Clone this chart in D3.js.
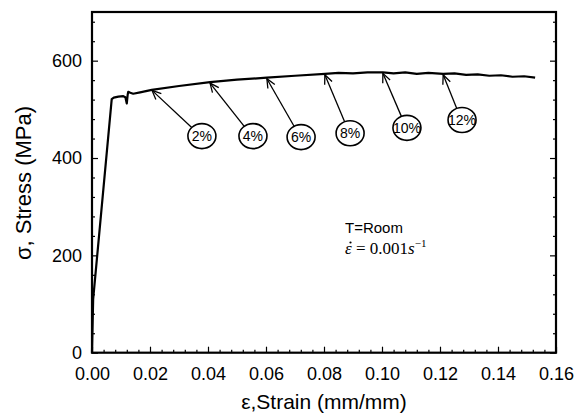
<!DOCTYPE html>
<html>
<head>
<meta charset="utf-8">
<script src="https://cdn.jsdelivr.net/npm/d3@7"></script>
<style>
  body { margin: 0; background: #fff; }
  svg { display: block; }
  .axis text { font-family: Arial, "Liberation Sans", sans-serif; font-size: 18px; fill: #000; }
  .axis line { stroke: #000; stroke-width: 1.2; }
  .axis path { display: none; }
</style>
</head>
<body>
<svg width="574" height="413"></svg>
<script>
// strain (mm/mm) and stress (MPa)
var strain = [0, 0.0004, 0.0068, 0.0075, 0.0091, 0.0108, 0.0115, 0.0120, 0.0123, 0.0125, 0.0132, 0.0142, 0.0166, 0.0206,
    0.030, 0.0407, 0.050, 0.0603, 0.070, 0.0803, 0.085, 0.090, 0.095, 0.1003, 0.104, 0.108, 0.112, 0.116,
    0.1211, 0.125, 0.129, 0.133, 0.137, 0.141, 0.145, 0.149, 0.1528];
var stress = [0, 110, 521, 524, 526, 527, 525, 512, 530, 536, 534, 532, 535, 540,
    548, 556, 561, 565, 569, 573, 575, 574, 576, 576, 574, 576, 573, 575,
    573, 574, 571, 572, 569, 570, 567, 568, 565];

// arrow labels: text, tip on the curve, circle centre
var labels = ["2%", "4%", "6%", "8%", "10%", "12%"];
var tipStrain = [0.0207, 0.0407, 0.0603, 0.0803, 0.1003, 0.1211];
var tipStress = [541, 556, 565, 573, 576, 573];
var boxStrain = [0.0379, 0.0555, 0.0721, 0.0890, 0.1086, 0.1276];
var boxStress = [445, 445, 443, 451, 462, 478];

var xMajor = [0, 0.02, 0.04, 0.06, 0.08, 0.10, 0.12, 0.14, 0.16];
var yMajor = [0, 200, 400, 600];

var svg = d3.select("svg"),
    margin = {top: 12, right: 18, bottom: 60, left: 92},
    width = 574 - margin.left - margin.right,
    height = 413 - margin.top - margin.bottom - 0.3;

var x = d3.scaleLinear().domain([0, 0.16]).range([margin.left, margin.left + width]),
    y = d3.scaleLinear().domain([0, 700]).range([margin.top + height, margin.top]);

var xMinor = d3.range(0, 0.1601, 0.004).filter(function(v) { return Math.abs(v / 0.02 - Math.round(v / 0.02)) > 1e-6; });
var yMinor = d3.range(0, 701, 40).filter(function(v) { return v % 200 !== 0; });

// bottom axis, ticks inward
svg.append("g").attr("class", "axis")
    .attr("transform", "translate(0," + y(0) + ")")
    .call(d3.axisBottom(x).tickValues(xMajor).tickFormat(d3.format(".2f")).tickSize(-6).tickPadding(15));
svg.append("g").attr("class", "axis")
    .attr("transform", "translate(0," + y(0) + ")")
    .call(d3.axisBottom(x).tickValues(xMinor).tickFormat("").tickSize(-3));

// left axis
svg.append("g").attr("class", "axis")
    .attr("transform", "translate(" + x(0) + ",0)")
    .call(d3.axisLeft(y).tickValues(yMajor).tickSize(-6).tickPadding(10));
svg.append("g").attr("class", "axis")
    .attr("transform", "translate(" + x(0) + ",0)")
    .call(d3.axisLeft(y).tickValues(yMinor).tickFormat("").tickSize(-3));

// right axis, no labels
svg.append("g").attr("class", "axis")
    .attr("transform", "translate(" + x(0.16) + ",0)")
    .call(d3.axisRight(y).tickValues(yMajor).tickFormat("").tickSize(-6));
svg.append("g").attr("class", "axis")
    .attr("transform", "translate(" + x(0.16) + ",0)")
    .call(d3.axisRight(y).tickValues(yMinor).tickFormat("").tickSize(-3));

// frame
svg.append("rect")
    .attr("x", x(0)).attr("y", y(700))
    .attr("width", x(0.16) - x(0)).attr("height", y(0) - y(700))
    .attr("fill", "none").attr("stroke", "#000").attr("stroke-width", 2.2);

// curve
var line = d3.line()
    .x(function(d, i) { return x(strain[i]); })
    .y(function(d, i) { return y(stress[i]); });

svg.append("path")
    .datum(stress)
    .attr("d", line)
    .attr("fill", "none")
    .attr("stroke", "#000")
    .attr("stroke-width", 2.2)
    .attr("stroke-linejoin", "round");

// open arrowhead
svg.append("defs").append("marker")
    .attr("id", "head")
    .attr("viewBox", "-10 -6 12 12")
    .attr("markerWidth", 12).attr("markerHeight", 12)
    .attr("markerUnits", "userSpaceOnUse")
    .attr("refX", 0).attr("refY", 0)
    .attr("orient", "auto")
    .append("path")
    .attr("d", "M-9,-4L0,0L-9,4")
    .attr("fill", "none").attr("stroke", "#000").attr("stroke-width", 1.3);

var rx = 14, ry = 12.5;
var ann = svg.append("g");
labels.forEach(function(t, i) {
    var cx = x(boxStrain[i]), cy = y(boxStress[i]),
        tx = x(tipStrain[i]), ty = y(tipStress[i]);
    var a = Math.atan2(ty - cy, tx - cx);
    ann.append("line")
        .attr("x1", cx + rx * Math.cos(a)).attr("y1", cy + ry * Math.sin(a))
        .attr("x2", tx).attr("y2", ty + 1)
        .attr("stroke", "#000").attr("stroke-width", 1.3)
        .attr("marker-end", "url(#head)");
    ann.append("ellipse")
        .attr("cx", cx).attr("cy", cy).attr("rx", rx).attr("ry", ry)
        .attr("fill", "#fff").attr("stroke", "#000").attr("stroke-width", 1.6);
    ann.append("text")
        .attr("x", cx).attr("y", cy).attr("dy", "0.36em")
        .attr("text-anchor", "middle")
        .style("font", "14px Arial, 'Liberation Sans', sans-serif")
        .text(t);
});

// test conditions
svg.append("text")
    .attr("x", 345).attr("y", 233)
    .style("font", "15px Arial, 'Liberation Sans', sans-serif")
    .text("T=Room");
var rate = svg.append("text")
    .attr("x", 345).attr("y", 254)
    .style("font", "17px 'Liberation Serif', 'DejaVu Serif', serif");
rate.append("tspan").style("font-style", "italic").text("\u03B5");
rate.append("tspan").text(" = 0.001");
rate.append("tspan").style("font-style", "italic").text("s");
rate.append("tspan").attr("dy", -7).style("font-size", "11px").text("\u22121");
// dot over epsilon (rate)
svg.append("circle")
    .attr("cx", 350.5).attr("cy", 242.5).attr("r", 1.1)
    .attr("fill", "#000");

// axis titles
svg.append("text")
    .attr("x", x(0.08)).attr("y", 409)
    .attr("text-anchor", "middle")
    .style("font", "21px Arial, 'Liberation Sans', sans-serif")
    .text("\u03B5,Strain (mm/mm)");

svg.append("text")
    .attr("transform", "translate(31,183) rotate(-90)")
    .attr("text-anchor", "middle")
    .style("font", "22px Arial, 'Liberation Sans', sans-serif")
    .text("\u03C3, Stress (MPa)");
</script>
</body>
</html>
